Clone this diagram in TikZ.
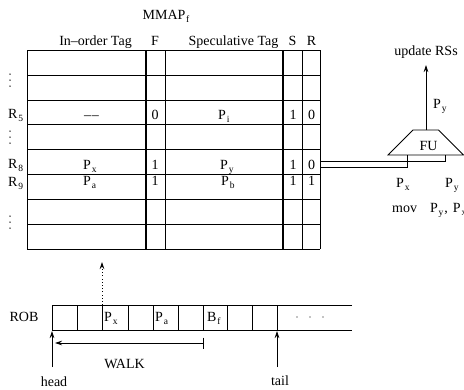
\documentclass[tikz,border=0pt]{standalone}
\usepackage{fontspec}
\setmainfont{Liberation Serif}
\usetikzlibrary{arrows.meta}
% lowered, smaller subscript in text
\newcommand\lowsub[1]{\kern0.8pt\raisebox{-0.55ex}{\fontsize{9.5}{10}\selectfont #1}}

\begin{document}
\begin{tikzpicture}[x=1pt,y=-1pt,
  font=\fontsize{14}{16}\selectfont,
  txt/.style={inner sep=0pt, anchor=base},
  txtw/.style={inner sep=0pt, anchor=base west},
  gridline/.style={line width=0.8pt},
  heavyline/.style={line width=1.5pt},
  tip/.style={-{Stealth[length=7pt,width=4.5pt]}, line width=0.7pt},
  vdot/.style={fill=black, draw=none}]
\useasboundingbox (0,0) rectangle (464,389);

% ---- MMAP table ----
\foreach \yy in {50,75,100,124,149,174,199,224,249}
  \draw[gridline] (27,\yy) -- (320,\yy);
\foreach \xx in {27,165,302,320}
  \draw[gridline] (\xx,50) -- (\xx,249);
\foreach \xx in {146,283}
  \draw[heavyline] (\xx,50) -- (\xx,249);

\node[txt] (mmap) at (166,19) {MMAP\lowsub{f}};
\node[txt] (hin) at (95.5,45) {In–order Tag};
\node[txt] (hf) at (155,45) {F};
\node[txt] (hspec) at (233.5,45) {Speculative Tag};
\node[txt] (hs) at (292.5,45) {S};
\node[txt] (hr) at (311.5,45) {R};

% row labels
\node[txtw] (r5) at (8,118) {R\lowsub{5}};
\node[txtw] (r8) at (8,168) {R\lowsub{8}};
\node[txtw] (r9) at (8,186) {R\lowsub{9}};
\foreach \yy in {74,80,86,131,137,143,216,222,228}
  \fill[vdot] (10,\yy) circle (0.75pt);

% row R5
\node[txt] (c5a) at (91.5,119) {–\kern0.6pt–};
\node[txt] (c5f) at (155,119) {0};
\node[txtw] (c5b) at (218,119) {P\lowsub{i}};
\node[txt] (c5s) at (293,119) {1};
\node[txt] (c5r) at (311.5,119) {0};
% row R8
\node[txtw] (c8a) at (83,169) {P\lowsub{x}};
\node[txt] (c8f) at (155,169) {1};
\node[txtw] (c8b) at (220,169) {P\lowsub{y}};
\node[txt] (c8s) at (293,169) {1};
\node[txt] (c8r) at (311.5,169) {0};
% row R9
\node[txtw] (c9a) at (83,185) {P\lowsub{a}};
\node[txt] (c9f) at (155,185) {1};
\node[txtw] (c9b) at (221,185) {P\lowsub{b}};
\node[txt] (c9s) at (293,185) {1};
\node[txt] (c9r) at (311.5,185) {1};

% ---- functional unit ----
\coordinate (fuTL) at (413,130);
\coordinate (fuTR) at (438.5,130);
\coordinate (fuBR) at (463.5,155);
\coordinate (fuBL) at (388,155);
\draw[line width=0.8pt, line join=miter] (fuTL) -- (fuTR) -- (fuBR) -- (fuBL) -- cycle;
\node[txt] (fu) at (428.5,150) {FU};
\coordinate (futop) at (426,130);
\coordinate (updtip) at (426,65);
\draw[tip] (futop) -- (updtip);
\node[txt] (upd) at (426,55) {update RSs};
\node[txtw] (pyout) at (433,108) {P\lowsub{y}};

% operand wires from the R8 entry
\coordinate (r8top) at (320,161.5);
\coordinate (r8bot) at (320,167);
\coordinate (fuinA) at (407,155);
\coordinate (fuinB) at (445,155);
\draw[line width=0.7pt] (r8top) -| (fuinB);
\draw[line width=0.7pt] (r8bot) -| (fuinA);

\node[txtw] (pxin) at (396,187) {P\lowsub{x}};
\node[txtw] (pyin) at (445,187) {P\lowsub{y}};
\node[txtw] (mov) at (392,212) {mov\hspace{13pt}P\lowsub{y}\kern1pt,\hspace{5pt}P\lowsub{x}};

% ---- reorder buffer ----
\node[txt] (rob) at (24,321) {ROB};
\draw[gridline] (352,305) -- (52,305) -- (52,330) -- (352,330);
\foreach \xx in {77,102,128,153,178,203,227,252,277}
  \draw[gridline] (\xx,305) -- (\xx,330);
\node[txtw] (bpx) at (104,321) {P\lowsub{x}};
\node[txtw] (bpa) at (155,321) {P\lowsub{a}};
\node[txtw] (bbf) at (207,321) {B\lowsub{f}};
\foreach \xx in {297,310,323}
  \fill[vdot] (\xx,317) circle (0.7pt);

% lookup from the ROB entry into the table
\coordinate (robpx) at (102,305);
\coordinate (lookup) at (102,262);
\draw[-{Stealth[length=7pt,width=4.5pt]}, line width=0.7pt,
      dash pattern=on 0.8pt off 2.4pt] (robpx) -- (lookup);

% walk from the branch back to the head
\coordinate (walkstart) at (203,343);
\coordinate (walkend) at (55,343);
\draw[tip] (walkstart) -- (walkend);
\draw[line width=0.7pt] (203,337.5) -- (203,349);
\node[txt] (walk) at (124.5,368) {WALK};

% head and tail pointers
\coordinate (headfoot) at (52,367);
\coordinate (headtip) at (52,331);
\draw[tip] (headfoot) -- (headtip);
\node[txt] (head) at (54,386) {head};
\coordinate (tailfoot) at (277,367);
\coordinate (tailtip) at (277,331);
\draw[tip] (tailfoot) -- (tailtip);
\node[txt] (tail) at (280,385) {tail};
\end{tikzpicture}
\end{document}
